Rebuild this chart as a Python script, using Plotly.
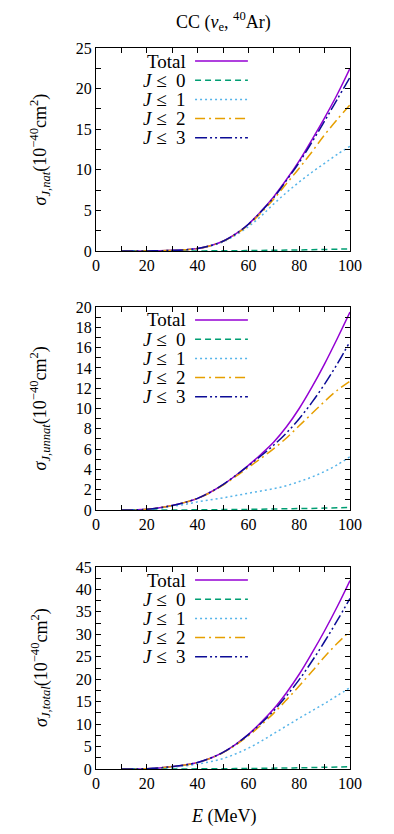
import plotly.graph_objects as go
from plotly.subplots import make_subplots

# Energy grid (MeV)
E = [10, 15, 20, 25, 30, 35, 40, 45, 50, 55, 60, 65, 70, 75, 80, 85, 90, 95, 100]

# Panel 1: natural parity
nat_total = [0, 0, 0.01, 0.03, 0.08, 0.15, 0.3, 0.65, 1.2, 2.1, 3.3, 4.9, 6.7, 8.8, 11.1, 13.7, 16.4, 19.3, 22.5]
nat_j3 = [0, 0, 0.01, 0.03, 0.08, 0.15, 0.3, 0.65, 1.2, 2.1, 3.3, 4.85, 6.6, 8.7, 10.9, 13.4, 16.0, 18.7, 21.4]
nat_j2 = [0, 0, 0.01, 0.03, 0.08, 0.15, 0.3, 0.65, 1.2, 2.05, 3.2, 4.7, 6.4, 8.3, 10.2, 12.2, 14.3, 16.2, 18.0]
nat_j1 = [0, 0, 0.01, 0.03, 0.08, 0.15, 0.3, 0.62, 1.12, 1.95, 3.0, 4.3, 5.8, 7.2, 8.5, 9.7, 10.8, 11.9, 12.9]
nat_j0 = [0, 0, 0, 0, 0, 0.01, 0.01, 0.02, 0.03, 0.04, 0.05, 0.07, 0.09, 0.11, 0.13, 0.16, 0.19, 0.22, 0.26]

# Panel 2: unnatural parity
unnat_total = [0, 0.01, 0.07, 0.22, 0.45, 0.75, 1.15, 1.75, 2.5, 3.4, 4.4, 5.5, 6.7, 8.2, 10.0, 12.1, 14.4, 16.9, 19.5]
unnat_j3 = [0, 0.01, 0.07, 0.22, 0.45, 0.75, 1.15, 1.75, 2.5, 3.4, 4.35, 5.35, 6.4, 7.6, 9.0, 10.6, 12.4, 14.4, 16.6]
unnat_j2 = [0, 0.01, 0.07, 0.22, 0.45, 0.75, 1.15, 1.72, 2.45, 3.3, 4.2, 5.1, 6.05, 7.1, 8.3, 9.5, 10.7, 11.8, 12.7]
unnat_j1 = [0, 0.01, 0.06, 0.18, 0.35, 0.55, 0.8, 1.0, 1.2, 1.42, 1.65, 1.88, 2.1, 2.4, 2.8, 3.25, 3.8, 4.45, 5.25]
unnat_j0 = [0, 0, 0, 0, 0.01, 0.01, 0.02, 0.03, 0.04, 0.05, 0.06, 0.08, 0.1, 0.12, 0.14, 0.16, 0.19, 0.22, 0.25]

# Panel 3: total
tot_total = [0, 0.01, 0.08, 0.25, 0.53, 0.9, 1.45, 2.4, 3.7, 5.5, 7.7, 10.4, 13.4, 17.0, 21.1, 25.8, 30.8, 36.2, 42.0]
tot_j3 = [0, 0.01, 0.08, 0.25, 0.53, 0.9, 1.45, 2.4, 3.7, 5.5, 7.65, 10.2, 13.0, 16.3, 19.9, 24.0, 28.4, 33.1, 38.0]
tot_j2 = [0, 0.01, 0.08, 0.25, 0.53, 0.9, 1.45, 2.37, 3.65, 5.35, 7.4, 9.8, 12.45, 15.4, 18.5, 21.7, 25.0, 28.0, 30.7]
tot_j1 = [0, 0.01, 0.07, 0.21, 0.43, 0.7, 1.1, 1.62, 2.32, 3.37, 4.65, 6.18, 7.9, 9.6, 11.3, 12.95, 14.6, 16.35, 18.15]
tot_j0 = [0, 0, 0, 0, 0.01, 0.02, 0.03, 0.05, 0.07, 0.09, 0.11, 0.15, 0.19, 0.23, 0.27, 0.32, 0.38, 0.44, 0.51]

legend_labels = ["Total", "<i>J</i>\u2005≤\u2005 0", "<i>J</i>\u2005≤\u2005 1", "<i>J</i>\u2005≤\u2005 2", "<i>J</i>\u2005≤\u2005 3"]
y_titles = [
    "<i>σ</i><sub><i>J,nat</i></sub>(10<sup>−40</sup>cm<sup>2</sup>)",
    "<i>σ</i><sub><i>J,unnat</i></sub>(10<sup>−40</sup>cm<sup>2</sup>)",
    "<i>σ</i><sub><i>J,total</i></sub>(10<sup>−40</sup>cm<sup>2</sup>)",
]
y_ranges = [[0, 25], [0, 20], [0, 45]]
y_dticks = [5, 2, 5]
y_minor = [2.5, 1, 2.5]
x_ticks = [0, 20, 40, 60, 80, 100]

panels = [
    [nat_total, nat_j0, nat_j1, nat_j2, nat_j3],
    [unnat_total, unnat_j0, unnat_j1, unnat_j2, unnat_j3],
    [tot_total, tot_j0, tot_j1, tot_j2, tot_j3],
]

colors = ["#9400D3", "#009E73", "#56B4E9", "#E69F00", "#0C0C96"]
dashes = ["solid", "6px,4px", "2px,3px", "10px,4px,2px,4px", "12px,3px,2px,3px,2px,3px"]

FONT = "Liberation Serif"

fig = make_subplots(rows=3, cols=1)

for r, series in enumerate(panels, start=1):
    for k, ys in enumerate(series):
        fig.add_trace(
            go.Scatter(
                x=E, y=ys, mode="lines", name=legend_labels[k],
                line=dict(color=colors[k], width=1.5, dash=dashes[k], shape="spline"),
                showlegend=False,
            ),
            row=r, col=1,
        )

# page body has an 8px margin: figure is offset by 8px
OFF = 8
W, H = 394 - OFF, 834 - OFF
ml = 96 - OFF
mt = 48 - OFF
plot_right = 350 - OFF
plot_bottom = 769 - OFF
mr = W - plot_right
mb = H - plot_bottom
ph = H - mt - mb
pw = W - ml - mr
# panel pixel spans (top, bottom) in figure coordinates
spans = [(48 - OFF, 251 - OFF), (307 - OFF, 510 - OFF), (567 - OFF, 769 - OFF)]
domains = [[(plot_bottom - b) / ph, (plot_bottom - t) / ph] for (t, b) in spans]

axis_common = dict(
    showline=True, linecolor="black", linewidth=1, mirror="allticks",
    ticks="inside", ticklen=5, tickwidth=1, tickcolor="black",
    showgrid=False, zeroline=False,
    tickfont=dict(family=FONT, size=16, color="black"),
)

for i in range(3):
    xa = "xaxis" if i == 0 else f"xaxis{i+1}"
    ya = "yaxis" if i == 0 else f"yaxis{i+1}"
    fig.update_layout({
        xa: dict(axis_common, range=[0, 100], tickvals=x_ticks,
                 minor=dict(dtick=10, tick0=0, ticks="inside", ticklen=5, tickcolor="black")),
        ya: dict(axis_common, range=y_ranges[i], dtick=y_dticks[i], tick0=0, domain=domains[i],
                 minor=dict(dtick=y_minor[i], tick0=0, ticks="inside", ticklen=5, tickcolor="black")),
    })

annotations = []
shapes = []
for i in range(3):
    xr = "x domain" if i == 0 else f"x{i+1} domain"
    yr = "y domain" if i == 0 else f"y{i+1} domain"
    top, bot = spans[i]
    hgt = bot - top
    for k, lab in enumerate(legend_labels):
        yy = 1 - (13 + 19.2 * k) / hgt
        annotations.append(dict(
            text=lab, xref=xr, yref=yr, x=0.362, y=yy, xanchor="right", yanchor="middle",
            showarrow=False, font=dict(family=FONT, size=19, color="black"),
        ))
        shapes.append(dict(
            type="line", xref=xr, yref=yr, x0=0.39, x1=0.598, y0=yy, y1=yy,
            line=dict(color=colors[k], width=1.5, dash=dashes[k]),
        ))
    # y-axis title
    annotations.append(dict(
        text=y_titles[i], xref="paper", yref=yr, x=(40 - 96) / pw, y=0.5,
        xanchor="center", yanchor="middle", textangle=-90, showarrow=False,
        font=dict(family=FONT, size=18, color="black"),
    ))

annotations.append(dict(
    text="CC (<i>ν</i><sub>e</sub>, <sup>40</sup>Ar)", xref="paper", yref="paper",
    x=0.5, y=1 + (48 - 21) / ph, xanchor="center", yanchor="middle", showarrow=False,
    font=dict(family=FONT, size=18, color="black"),
))
annotations.append(dict(
    text="<i>E</i> (MeV)", xref="paper", yref="paper",
    x=0.5, y=-(816 - 769) / ph, xanchor="center", yanchor="middle", showarrow=False,
    font=dict(family=FONT, size=18, color="black"),
))

fig.update_layout(
    width=W, height=H,
    margin=dict(l=ml, r=mr, t=mt, b=mb),
    paper_bgcolor="white", plot_bgcolor="white",
    annotations=annotations, shapes=shapes,
    showlegend=False,
)

fig.write_html("out.html")
